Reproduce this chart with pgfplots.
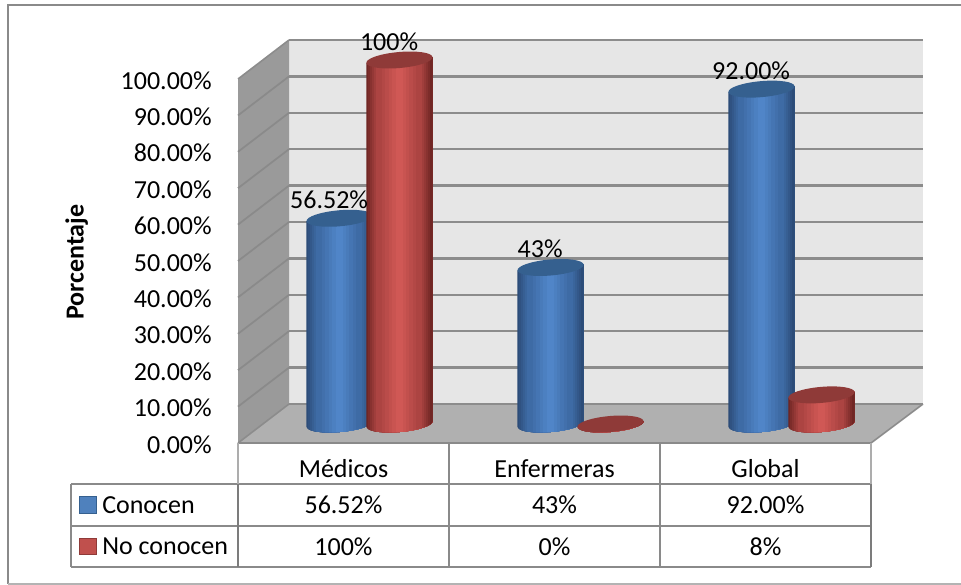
\documentclass[border=0pt]{standalone}
\usepackage{fontspec}
\usepackage{pgfplots}
\usepackage{pgfplotstable}
\pgfplotsset{compat=1.18}
\setmainfont{Carlito}
\newcommand{\lab}{\fontsize{19.5}{22}\selectfont}

% Colours of the chart frame
\definecolor{gridc}{HTML}{8C8C8C}
\definecolor{wallc}{HTML}{E6E6E6}
\definecolor{sidec}{HTML}{9A9A9A}
\definecolor{sidegrid}{HTML}{8A8A8A}
\definecolor{floorc}{HTML}{B0B0B0}
\definecolor{linec}{HTML}{8A8A8A}
\definecolor{bluekey}{HTML}{4F81BD}
\definecolor{redkey}{HTML}{C0504D}

% Colours of the cylinders: edge, shoulder, lit centre, top face
\definecolor{blueE}{RGB}{44,76,120}
\definecolor{blueS}{RGB}{62,107,165}
\definecolor{blueB}{RGB}{80,133,200}
\definecolor{blueT}{HTML}{35608F}
\definecolor{redE}{RGB}{112,38,36}
\definecolor{redS}{RGB}{172,68,66}
\definecolor{redB}{RGB}{208,88,85}
\definecolor{redT}{HTML}{8F3A38}

\pgfdeclareplotmark{cylempty}{}

% A cylinder hanging from its data point: 2.73pt of height per percentage point.
% The body is clipped to its outline and painted in narrow vertical strips.
\pgfplotsset{
  cylinder bar/.style={
    scatter, only marks, mark=cylempty,
    visualization depends on={rawy \as \val},
    scatter/@pre marker code/.code={
      \pgfmathsetmacro\H{\val*2.73}
      \begin{scope}
        \path[draw=none,clip]
          (-24.80pt,-2.17pt) -- (-24.80pt,{-2.17pt-\H pt})
          .. controls (-24.51pt,{-5.47pt-\H pt}) and (-13.18pt,{-7.18pt-\H pt}) ..
          (0.52pt,{-5.98pt-\H pt})
          .. controls (14.22pt,{-4.78pt-\H pt}) and (25.09pt,{-1.13pt-\H pt}) ..
          (24.80pt,{2.17pt-\H pt}) -- (24.80pt,2.17pt) -- cycle;
        \foreach \ta/\tb/\ca/\cb in {0/0.18/#1E/#1S, 0.18/0.5/#1S/#1B, 0.5/0.8/#1B/#1S, 0.8/1/#1S/#1E} {
          \foreach \st in {0,1,2,3,4,5} {
            \pgfmathsetmacro\xs{-24.8+49.6*(\ta+(\tb-\ta)*\st/6)}
            \pgfmathsetmacro\pc{100*\st/5}
            \path[draw=none,fill={\cb!\pc!\ca}] (\xs pt,4pt) rectangle (26pt,{-10pt-\H pt});
          }
        }
      \end{scope}
      \path[draw=none,fill=#1T]
        (-24.80pt,-2.17pt)
        .. controls (-24.51pt,-5.47pt) and (-13.18pt,-7.18pt) .. (0.52pt,-5.98pt)
        .. controls (14.22pt,-4.78pt) and (25.09pt,-1.13pt) .. (24.80pt,2.17pt)
        .. controls (24.51pt,5.47pt) and (13.18pt,7.18pt) .. (-0.52pt,5.98pt)
        .. controls (-14.22pt,4.78pt) and (-25.09pt,1.13pt) .. (-24.80pt,-2.17pt) -- cycle;
    },
    scatter/@post marker code/.code={},
  }
}

\pgfplotstableread{
x      y
-0.142 56.52
0.858  43
1.858  92
}\conocen
\pgfplotstableread{
x     y
0.142 100
1.142 0
2.142 8
}\noconocen
\pgfplotstableread{
x      y      label
-0.142 56.52  56.52
0.142  100    100
0.858  43     43
1.858  92     92.00
}\etiquetas

\begin{document}
\begin{tikzpicture}[x=0.75pt,y=-0.75pt,font=\lab]
\useasboundingbox (0,0) rectangle (961,585);

% Outer frame, open at the right-hand page edge
\draw[linec,line width=1.3pt] (961,5) -- (8,5) -- (8,584);
\draw[linec!65!white,line width=1.2pt] (8,584) -- (961,584);

% Walls and floor of the 3-D box
\fill[wallc] (289,40) rectangle (923,404);
\fill[sidec] (238,79) -- (289,40) -- (289,404) -- (238,443) -- cycle;
\fill[floorc] (238,443) -- (871,443) -- (923,404) -- (289,404) -- cycle;
\foreach \k in {1,...,9} {
  \draw[sidegrid,line width=1.3pt] (238,{443-36.4*\k}) -- (289,{404-36.4*\k});
}
\foreach \k in {0,...,10} {
  \draw[gridc,line width=1.7pt] (289,{404-36.4*\k}) -- (923,{404-36.4*\k});
}
\draw[gridc,line width=1.2pt] (238,79) -- (289,40) (238,443) -- (289,404) (871,443) -- (923,404);

% Data table rules
\draw[linec,line width=1.5pt]
  (71,484) -- (871,484) (71,526) -- (871,526) (71,567) -- (871,567)
  (71,484) -- (71,567)
  (238,443) -- (871,443)
  (449,443) -- (449,567) (660,443) -- (660,567);
\draw[linec!70!white,line width=1.2pt] (238,443) -- (238,484) (871,443) -- (871,484);
\draw[linec!90!black,line width=1.9pt] (238,484) -- (238,567) (871,484) -- (871,567);

% Legend keys in the data table
\fill[bluekey,draw=blueT,line width=0.6pt] (79.5,496) rectangle (96,513);
\fill[redkey,draw=redT,line width=0.6pt] (79.5,538) rectangle (96,554);
\node[anchor=base west,inner sep=0pt] at (102,513) {Conocen};
\node[anchor=base west,inner sep=0pt] at (102,554) {No conocen};

% Data table values
\foreach \cx/\a/\b in {343.5/56.52\%/100\%, 554.5/43\%/0\%, 765.5/92.00\%/8\%} {
  \node[anchor=base,inner sep=0pt] at (\cx,513) {\a};
  \node[anchor=base,inner sep=0pt] at (\cx,555) {\b};
}

% Value axis and category names along the front edge
\begin{axis}[
  at={(178.5pt,-332.25pt)}, anchor=south west,
  scale only axis, width=474.75pt, height=273pt,
  xmin=-0.5, xmax=2.5, ymin=0, ymax=100,
  axis line style={draw=none}, tick style={draw=none},
  major tick length=0pt,
  xtick={0,1,2}, xticklabels={Médicos,Enfermeras,Global},
  xticklabel style={anchor=base,yshift=-26pt,inner sep=0pt},
  ytick={0,10,...,100},
  yticklabel={\pgfmathprintnumber[fixed,fixed zerofill,precision=2,assume math mode=true]{\tick}\%},
  yticklabel style={anchor=east,xshift=-19.5pt,yshift=-1pt,inner sep=0pt},
  tick label style={font=\lab},
  ylabel={\textbf{Porcentaje}},
  every axis y label/.style={at={(axis description cs:-0.255,0.497)},rotate=90,anchor=center,font=\lab},
]
\end{axis}

% Cylinders, set halfway back on the floor
\begin{axis}[
  at={(198pt,-318pt)}, anchor=south west,
  scale only axis, width=474.75pt, height=273pt,
  xmin=-0.5, xmax=2.5, ymin=0, ymax=100,
  hide axis, clip=false,
]
\addplot[cylinder bar=blue] table[x=x,y=y] {\conocen};
\addplot[cylinder bar=red] table[x=x,y=y] {\noconocen};
\addplot[draw=none, mark=none, point meta=explicit symbolic,
  nodes near coords={\pgfplotspointmeta\%},
  every node near coord/.style={anchor=center,text=black,font=\lab,inner sep=0pt,xshift=-7.8pt,yshift=13.8pt}]
  table[x=x,y=y,meta=label] {\etiquetas};
\end{axis}
\end{tikzpicture}
\end{document}
